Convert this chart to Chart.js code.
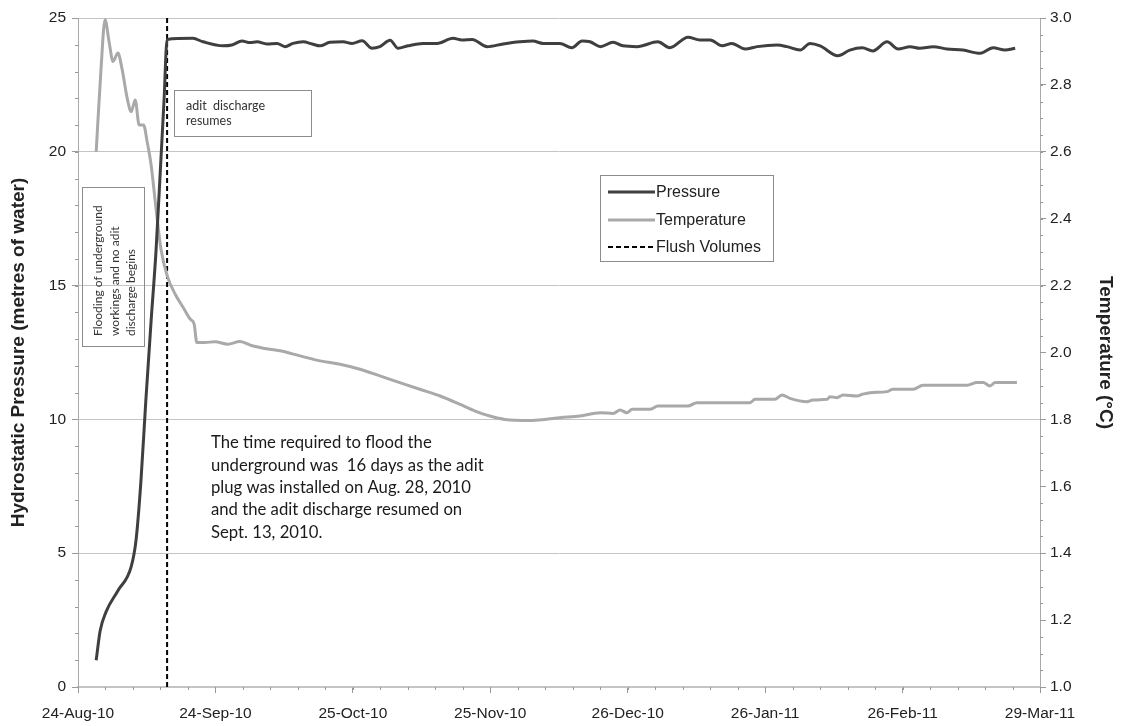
<!DOCTYPE html>
<html>
<head>
<meta charset="utf-8">
<script src="https://cdn.jsdelivr.net/npm/chart.js@4.4.1/dist/chart.umd.min.js"></script>
<style>
  html, body { margin: 0; padding: 0; background: #fff; }
  #wrap { width: 1121px; height: 726px; }
</style>
</head>
<body>
<div id="wrap"><canvas id="aditChart" width="1121" height="726"></canvas></div>
<script>
// x axis is days since 24-Aug-10, labels every 31 days
const dateLabels = ['24-Aug-10', '24-Sep-10', '25-Oct-10', '25-Nov-10', '26-Dec-10', '26-Jan-11', '26-Feb-11', '29-Mar-11'];

const pressureDays = [4.1, 5.0, 6.3, 9.0, 12.0, 13.1, 14.2, 15.3, 16.5, 17.6, 18.7, 19.4, 20.1,
    25.9, 28.2, 32.7, 34.7, 37.0, 38.8, 40.4, 42.6, 44.9, 46.7, 48.5, 50.8, 52.8, 54.6, 56.8,
    59.8, 61.8, 64.1, 66.3, 68.1, 70.4, 72.2, 74.4, 77.8, 81.0, 84.6, 86.6, 88.9, 92.3, 95.9,
    99.7, 102.6, 104.9, 108.7, 111.4, 113.7, 115.5, 117.8, 120.7, 122.9, 126.1, 130.8, 133.5,
    137.6, 140.3, 142.6, 145.3, 147.5, 150.5, 153.2, 157.7, 159.9, 162.9, 165.1, 167.4, 171.4,
    174.1, 176.9, 179.3, 182.5, 185.0, 187.7, 189.9, 192.9, 196.0, 199.6, 203.5, 206.4, 209.1, 211.4];
const pressureValues = [1.0, 2.1, 2.8, 3.6, 4.5, 5.5, 7.7, 10.7, 13.7, 16.3, 19.7, 21.9, 24.2,
    24.24, 24.11, 23.96, 23.99, 24.14, 24.08, 24.11, 24.03, 24.05, 23.93, 24.05, 24.11, 24.03, 23.96, 24.09,
    24.11, 24.05, 24.15, 23.87, 23.93, 24.17, 23.87, 23.96, 24.05, 24.05, 24.24, 24.18, 24.20, 23.93, 24.03,
    24.11, 24.14, 24.05, 24.05, 23.89, 24.14, 24.11, 23.93, 24.09, 23.96, 23.93, 24.11, 23.89,
    24.28, 24.18, 24.18, 23.96, 24.05, 23.84, 23.93, 23.99, 23.93, 23.80, 24.05, 23.96, 23.59,
    23.80, 23.89, 23.77, 24.11, 23.84, 23.93, 23.87, 23.93, 23.84, 23.80, 23.68, 23.89, 23.80, 23.87];

const tempDays = [4.1, 5.2, 6.1, 7.0, 7.9, 9.0, 9.9, 11.1, 12.0, 12.9, 13.8, 14.8, 15.6, 16.5, 17.6, 18.7,
    20.1, 21.9, 23.7, 25.3, 26.2, 26.8, 28.6, 30.9, 33.8, 36.5, 39.3, 42.2, 45.6, 50.1, 54.6, 59.1,
    63.6, 68.1, 72.6, 77.1, 81.7, 86.2, 89.6, 92.9, 96.3, 102.0, 105.3, 108.7, 113.2, 117.8, 120.7,
    122.3, 123.8, 125.0, 129.0, 130.8, 137.6, 139.6, 151.6, 152.7, 157.2, 158.8, 160.6, 164.4, 165.8,
    169.0, 169.6, 171.2, 172.6, 175.7, 176.9, 178.7, 182.5, 183.8, 188.4, 190.6, 200.5, 202.8, 204.2,
    205.7, 206.9, 211.8];
const tempValues = [2.60, 2.85, 2.995, 2.93, 2.87, 2.895, 2.85, 2.76, 2.72, 2.755, 2.68, 2.68, 2.63, 2.56, 2.43, 2.31,
    2.23, 2.175, 2.135, 2.10, 2.085, 2.03, 2.03, 2.032, 2.025, 2.033, 2.02, 2.012, 2.005, 1.99, 1.975, 1.965,
    1.95, 1.93, 1.91, 1.89, 1.87, 1.845, 1.825, 1.81, 1.80, 1.797, 1.80, 1.805, 1.81, 1.82, 1.818,
    1.828, 1.82, 1.83, 1.83, 1.84, 1.84, 1.85, 1.85, 1.86, 1.86, 1.873, 1.863, 1.853, 1.858,
    1.86, 1.868, 1.865, 1.873, 1.87, 1.875, 1.88, 1.883, 1.89, 1.89, 1.902, 1.902, 1.91, 1.91,
    1.90, 1.91, 1.91];

// plug removed / discharge resumes (Sept. 13, 2010)
const flushDays = [20.1, 20.1];
const flushValues = [0, 25];

function toPoints(xs, ys) {
    let pts = [];
    for (let i in xs) {
        pts.push({ x: xs[i], y: ys[i] });
    }
    return pts;
}

const fontMain = 'Liberation Sans, Arial, sans-serif';
const fontNote = 'Lato, Open Sans, sans-serif';

// small ticks between the labelled ones
const minorTicks = {
    id: 'minorTicks',
    afterDraw(chart) {
        const ctx = chart.ctx;
        const x = chart.scales.x, y = chart.scales.y, y1 = chart.scales.y1;
        ctx.save();
        ctx.strokeStyle = '#999';
        ctx.lineWidth = 1;
        ctx.beginPath();
        for (let d = 0; d <= 217; d += 6.2) {
            const px = Math.round(x.getPixelForValue(d)) + 0.5;
            ctx.moveTo(px, x.top);
            ctx.lineTo(px, x.top + 3);
        }
        for (let v = 0; v <= 25; v += 1) {
            const py = Math.round(y.getPixelForValue(v)) + 0.5;
            ctx.moveTo(y.right, py);
            ctx.lineTo(y.right - 3, py);
        }
        for (let v = 1; v <= 3.001; v += 0.05) {
            const py = Math.round(y1.getPixelForValue(v)) + 0.5;
            ctx.moveTo(y1.left, py);
            ctx.lineTo(y1.left + 3, py);
        }
        ctx.stroke();
        ctx.restore();
    }
};

// text boxes and the legend box
const notes = {
    id: 'notes',
    afterDraw(chart) {
        const ctx = chart.ctx;
        ctx.save();

        // adit discharge resumes
        ctx.strokeStyle = '#8c8c8c';
        ctx.lineWidth = 1;
        ctx.strokeRect(174.5, 90.5, 137, 46);
        ctx.fillStyle = '#333';
        ctx.font = '12.5px ' + fontNote;
        ctx.textBaseline = 'middle';
        ctx.textAlign = 'left';
        ctx.fillText('adit  discharge', 186, 106);
        ctx.fillText('resumes', 186, 121);

        // rotated flooding box
        ctx.strokeRect(82.5, 187.5, 62, 159);
        ctx.save();
        ctx.rotate(-Math.PI / 2);
        ctx.font = '12px ' + fontNote;
        ctx.fillText('Flooding of underground', -336, 98);
        ctx.fillText('workings and no adit', -336, 115);
        ctx.fillText('discharge begins', -336, 131);
        ctx.restore();

        // explanation text
        ctx.fillStyle = '#1a1a1a';
        ctx.font = '16.7px ' + fontNote;
        const lines = ['The time required to flood the',
            'underground was  16 days as the adit',
            'plug was installed on Aug. 28, 2010',
            'and the adit discharge resumed on',
            'Sept. 13, 2010.'];
        for (let i in lines) {
            ctx.fillText(lines[i], 211, 443 + i * 22.3);
        }

        // legend
        ctx.fillStyle = '#fff';
        ctx.fillRect(600.5, 175.5, 173, 86);
        ctx.strokeStyle = '#8c8c8c';
        ctx.strokeRect(600.5, 175.5, 173, 86);
        ctx.font = '16px ' + fontMain;
        const rows = [192, 220, 247];
        chart.data.datasets.forEach((ds, i) => {
            ctx.save();
            ctx.strokeStyle = ds.borderColor;
            ctx.lineWidth = ds.borderWidth;
            ctx.setLineDash(ds.borderDash || []);
            ctx.beginPath();
            ctx.moveTo(608, rows[i]);
            ctx.lineTo(655, rows[i]);
            ctx.stroke();
            ctx.restore();
            ctx.fillStyle = '#222';
            ctx.fillText(ds.label, 656, rows[i] + 1);
        });

        ctx.restore();
    }
};

const ctx = document.getElementById('aditChart').getContext('2d');

const aditChart = new Chart(ctx, {
    type: 'line',
    data: {
        datasets: [
            {
                label: 'Pressure',
                data: toPoints(pressureDays, pressureValues),
                yAxisID: 'y',
                borderColor: '#3f3f3f',
                borderWidth: 3,
                pointRadius: 0,
                cubicInterpolationMode: 'monotone',
            },
            {
                label: 'Temperature',
                data: toPoints(tempDays, tempValues),
                yAxisID: 'y1',
                borderColor: '#a9a9a9',
                borderWidth: 3,
                pointRadius: 0,
                cubicInterpolationMode: 'monotone',
            },
            {
                label: 'Flush Volumes',
                data: toPoints(flushDays, flushValues),
                yAxisID: 'y',
                borderColor: '#000',
                borderWidth: 2,
                borderDash: [5, 3],
                pointRadius: 0,
            },
        ],
    },
    options: {
        responsive: false,
        animation: false,
        layout: { padding: { top: 18, right: 0, bottom: 0, left: 0 } },
        plugins: {
            legend: { display: false },
            tooltip: { enabled: false },
        },
        scales: {
            x: {
                type: 'linear',
                min: 0,
                max: 217,
                afterFit: (s) => { s.height = 39; },
                ticks: {
                    stepSize: 31,
                    maxRotation: 0,
                    autoSkip: false,
                    padding: 11,
                    color: '#222',
                    font: { family: fontMain, size: 15.5 },
                    callback: (v) => dateLabels[Math.round(v / 31)],
                },
                grid: { drawOnChartArea: false, tickLength: 6, tickColor: '#999' },
                border: { color: '#c4c4c4', width: 2 },
            },
            y: {
                position: 'left',
                min: 0,
                max: 25,
                afterFit: (s) => { s.width = 78; },
                ticks: {
                    stepSize: 5,
                    padding: 6,
                    color: '#222',
                    font: { family: fontMain, size: 15.5 },
                },
                grid: { color: '#c4c4c4', tickLength: 6, tickColor: '#999' },
                border: { color: '#aaa' },
                title: {
                    display: true,
                    text: 'Hydrostatic Pressure (metres of water)',
                    color: '#222',
                    font: { family: fontMain, size: 19, weight: 'bold' },
                    padding: { top: 7, bottom: 0 },
                },
            },
            y1: {
                position: 'right',
                min: 1,
                max: 3,
                afterFit: (s) => { s.width = 81; },
                ticks: {
                    stepSize: 0.2,
                    padding: 4,
                    color: '#222',
                    font: { family: fontMain, size: 15.5 },
                    callback: (v) => v.toFixed(1),
                },
                grid: { drawOnChartArea: false, tickLength: 6, tickColor: '#999' },
                border: { color: '#aaa' },
                title: {
                    display: true,
                    text: 'Temperature (°C)',
                    color: '#222',
                    font: { family: fontMain, size: 19, weight: 'bold' },
                    padding: { top: 4, bottom: 0 },
                },
            },
        },
    },
    plugins: [minorTicks, notes],
});
</script>
</body>
</html>
